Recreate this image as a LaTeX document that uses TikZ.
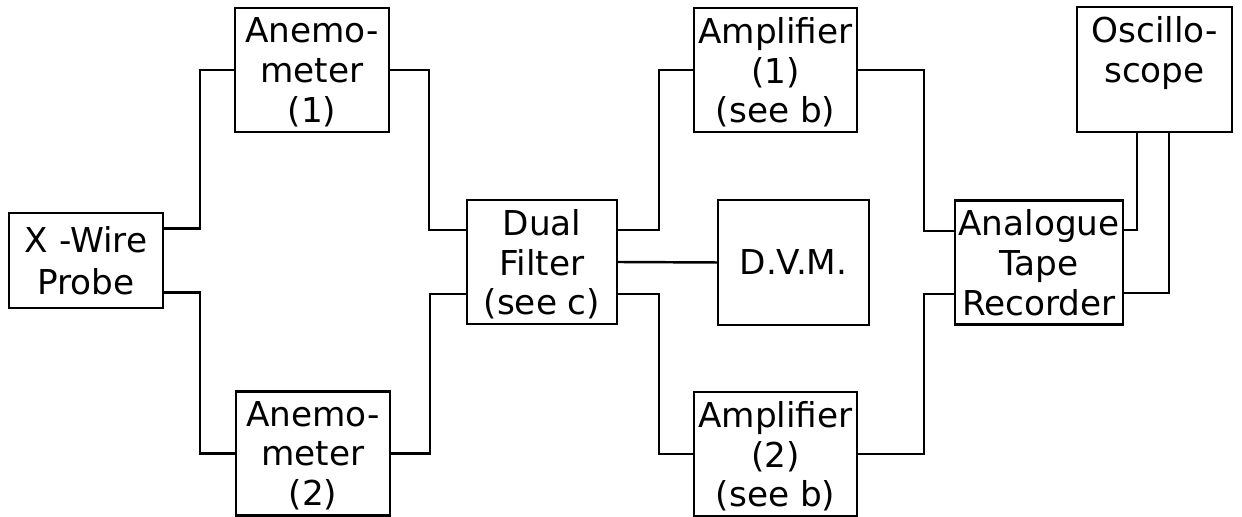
\documentclass[tikz,border=0pt]{standalone}
\usepackage{fontspec}
\setmainfont{DejaVu Sans}
\begin{document}
\begin{tikzpicture}[
  line width=1.4pt,
  font=\fontsize{19.5}{22.5}\selectfont,
  blok/.style={
    draw, align=center, inner sep=0pt, text depth=0pt,
    minimum width=3.08cm, minimum height=2.48cm
  },
  wire/.style={line width=1.4pt}
]
\useasboundingbox (0,0) rectangle (24.84,10.34);

% Blocs
\node[blok, minimum height=1.90cm, font=\fontsize{19.5}{24}\selectfont] (probe) at (1.72,5.13) {X -Wire\\Probe};
\node[blok] (anemoA) at (6.24,8.94) {Anemo-\\meter\\(1)};
\node[blok] (anemoB) at (6.26,1.27) {Anemo-\\meter\\(2)};
\node[blok, minimum width=3.00cm] (filter) at (10.84,5.10) {Dual\\Filter\\(see c)};
\node[blok, minimum width=3.02cm, minimum height=2.50cm] (dvm) at (15.87,5.09) {D.V.M.};
\node[blok, minimum width=3.26cm] (ampA) at (15.51,8.94) {Amplifier\\(1)\\(see b)};
\node[blok, minimum width=3.26cm] (ampB) at (15.51,1.26) {Amplifier\\(2)\\(see b)};
\node[blok, minimum width=3.36cm] (tape) at (20.78,5.09) {Analogue\\Tape\\Recorder};
\node[blok, minimum width=3.10cm, minimum height=2.50cm] (osc) at (23.09,8.95) {Oscillo-\\scope\\\strut};

% Liaisons
\draw[wire] ([yshift=0.64cm]probe.east) -- ++(0.72,0) |- (anemoA.west);
\draw[wire] ([yshift=-0.64cm]probe.east) -- ++(0.72,0) |- (anemoB.west);
\draw[wire] (anemoA.east) -- ++(0.78,0) |- ([yshift=0.64cm]filter.west);
\draw[wire] (anemoB.east) -- ++(0.78,0) |- ([yshift=-0.64cm]filter.west);
\draw[wire] ([yshift=0.64cm]filter.east) -- ++(0.82,0) |- (ampA.west);
\draw[wire] (filter.east) -- (dvm.west);
\draw[wire] ([yshift=-0.64cm]filter.east) -- ++(0.82,0) |- (ampB.west);
\draw[wire] (ampA.east) -- ++(1.32,0) |- ([yshift=0.63cm]tape.west);
\draw[wire] (ampB.east) -- ++(1.32,0) |- ([yshift=-0.63cm]tape.west);
\draw[wire] ([yshift=0.65cm]tape.east) -| ([xshift=-0.35cm]osc.south);
\draw[wire] ([yshift=-0.61cm]tape.east) -| ([xshift=0.29cm]osc.south);
\end{tikzpicture}
\end{document}
